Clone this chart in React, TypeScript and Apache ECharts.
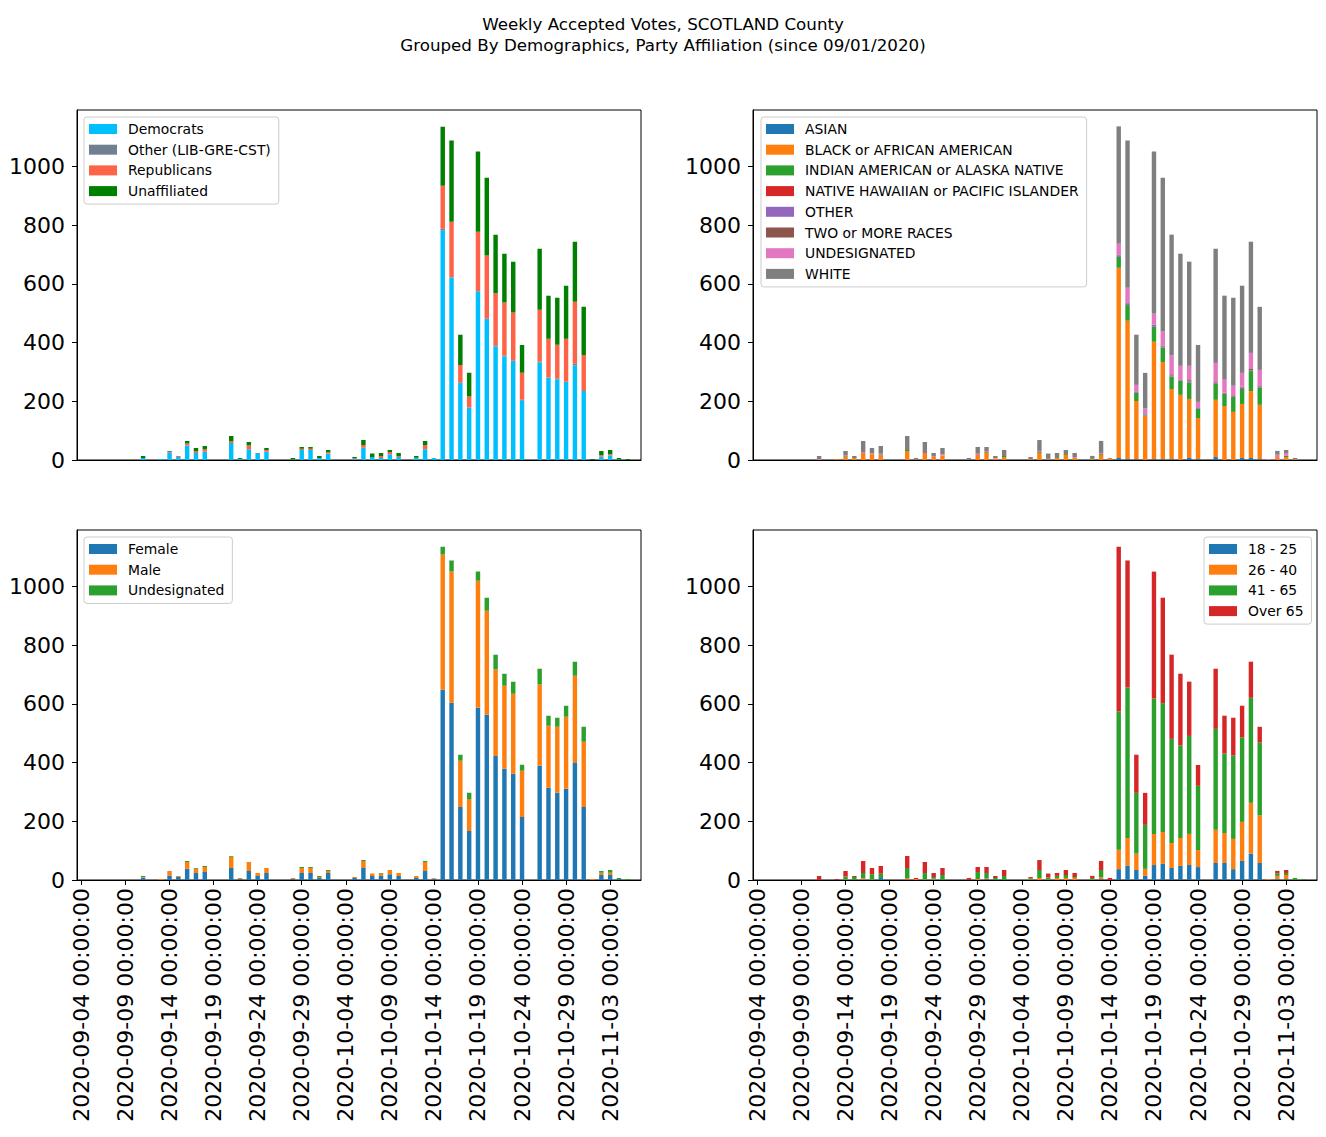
import React, { useEffect, useRef } from "react";
import * as echarts from "echarts";

// ---------- Categories ----------
const START_DATE = "2020-09-04";
const N_DAYS = 64;
const DATES: string[] = (() => {
  const out: string[] = [];
  const d0 = new Date(START_DATE + "T00:00:00Z");
  for (let i = 0; i < N_DAYS; i++) {
    const d = new Date(d0.getTime() + i * 86400000);
    out.push(d.toISOString().slice(0, 10));
  }
  return out;
})();

const Y_TICKS = [0, 200, 400, 600, 800, 1000];

// ---------- Party affiliation ----------
const PARTY_NAMES = ["Democrats", "Other (LIB-GRE-CST)", "Republicans", "Unaffiliated"];
const PARTY_COLORS = ["#00BFFF", "#708090", "#FF6347", "#008000"];
const democrats = [
  0, 0, 0, 0, 0, 0, 0, 7,
  0, 3, 25, 10, 49, 24, 28, 0,
  0, 58, 3, 37, 22, 28, 0, 0,
  2, 34, 34, 7, 22, 0, 0, 3,
  42, 10, 7, 20, 10, 0, 8, 37,
  7, 783, 622, 263, 179, 575, 481, 387,
  353, 338, 202, 0, 332, 281, 275, 267,
  322, 235, 0, 11, 15, 2, 0, 0,
];
const otherParty = [
  0, 0, 0, 0, 0, 0, 0, 0,
  0, 0, 0, 0, 0, 0, 0, 0,
  0, 0, 0, 0, 0, 0, 0, 0,
  0, 0, 0, 0, 0, 0, 0, 0,
  0, 0, 0, 0, 0, 0, 0, 0,
  0, 5, 0, 0, 0, 0, 0, 4,
  3, 0, 3, 0, 4, 0, 2, 0,
  6, 0, 0, 0, 0, 0, 0, 0,
];
const republicans = [
  0, 0, 0, 0, 0, 0, 0, 0,
  0, 0, 3, 4, 7, 7, 9, 0,
  0, 7, 0, 12, 0, 6, 0, 0,
  0, 4, 4, 0, 5, 0, 0, 4,
  9, 0, 7, 7, 4, 0, 0, 14,
  0, 147, 190, 61, 37, 203, 216, 177,
  181, 165, 92, 0, 176, 132, 116, 146,
  211, 123, 0, 5, 5, 0, 0, 0,
];
const unaffiliated = [
  0, 0, 0, 0, 0, 0, 0, 7,
  0, 0, 3, 0, 9, 10, 11, 0,
  0, 17, 4, 12, 2, 7, 0, 0,
  5, 6, 6, 7, 7, 0, 0, 3,
  17, 12, 10, 7, 10, 0, 6, 14,
  0, 201, 277, 103, 81, 273, 265, 200,
  166, 173, 95, 0, 208, 147, 160, 181,
  205, 164, 3, 15, 14, 5, 3, 0,
];

// ---------- Race ----------
const RACE_NAMES = [
  "ASIAN",
  "BLACK or AFRICAN AMERICAN",
  "INDIAN AMERICAN or ALASKA NATIVE",
  "NATIVE HAWAIIAN or PACIFIC ISLANDER",
  "OTHER",
  "TWO or MORE RACES",
  "UNDESIGNATED",
  "WHITE",
];
const RACE_COLORS = ["#1f77b4", "#ff7f0e", "#2ca02c", "#d62728", "#9467bd", "#8c564b", "#e377c2", "#7f7f7f"];
const asian = [
  0, 0, 0, 0, 0, 0, 0, 0,
  0, 0, 0, 0, 0, 0, 0, 0,
  0, 0, 0, 0, 0, 0, 0, 0,
  0, 0, 0, 0, 0, 0, 0, 0,
  0, 0, 0, 0, 0, 0, 0, 0,
  0, 7, 3, 3, 0, 3, 3, 3,
  0, 7, 3, 0, 10, 0, 0, 7,
  7, 3, 0, 0, 0, 0, 0, 0,
];
const black = [
  0, 0, 0, 0, 0, 0, 0, 0,
  0, 3, 10, 7, 24, 20, 15, 0,
  0, 31, 2, 24, 10, 15, 0, 0,
  0, 17, 25, 4, 10, 0, 0, 3,
  24, 2, 7, 17, 7, 0, 3, 17,
  4, 648, 472, 198, 151, 400, 331, 239,
  222, 201, 140, 0, 195, 184, 164, 184,
  228, 185, 0, 10, 10, 3, 0, 0,
];
const indian = [
  0, 0, 0, 0, 0, 0, 0, 0,
  0, 0, 3, 0, 0, 2, 2, 0,
  0, 3, 0, 0, 0, 0, 0, 0,
  0, 0, 2, 0, 4, 0, 0, 0,
  3, 0, 3, 3, 0, 0, 3, 3,
  0, 37, 53, 28, 2, 51, 49, 42,
  48, 55, 31, 0, 54, 41, 51, 51,
  68, 58, 0, 0, 4, 0, 0, 0,
];
const hawaiian = [
  0, 0, 0, 0, 0, 0, 0, 0,
  0, 0, 0, 0, 0, 0, 0, 0,
  0, 0, 0, 0, 0, 0, 0, 0,
  0, 0, 0, 0, 0, 0, 0, 0,
  0, 0, 0, 0, 0, 0, 0, 0,
  0, 0, 0, 0, 0, 0, 0, 0,
  0, 0, 0, 0, 0, 2, 0, 0,
  0, 0, 0, 0, 0, 0, 0, 0,
];
const otherRace = [
  0, 0, 0, 0, 0, 0, 0, 0,
  0, 0, 0, 0, 0, 0, 0, 0,
  0, 0, 0, 3, 0, 0, 0, 0,
  0, 0, 0, 0, 0, 0, 0, 0,
  0, 2, 0, 0, 0, 0, 0, 0,
  0, 5, 6, 3, 3, 7, 5, 4,
  3, 5, 3, 0, 2, 3, 3, 5,
  3, 5, 0, 0, 0, 0, 0, 0,
];
const twoOrMore = [
  0, 0, 0, 0, 0, 0, 0, 0,
  0, 0, 0, 0, 0, 0, 0, 0,
  0, 0, 0, 0, 0, 0, 0, 0,
  0, 0, 0, 0, 0, 0, 0, 0,
  0, 0, 0, 0, 0, 0, 0, 0,
  0, 2, 3, 0, 0, 0, 2, 4,
  0, 4, 0, 0, 4, 0, 0, 3,
  4, 3, 0, 0, 0, 0, 0, 0,
];
const undesignatedRace = [
  0, 0, 0, 0, 0, 0, 0, 3,
  0, 0, 4, 0, 3, 2, 4, 0,
  0, 0, 0, 0, 4, 5, 0, 0,
  0, 4, 4, 3, 0, 0, 0, 0,
  4, 0, 0, 0, 3, 0, 0, 4,
  0, 38, 50, 24, 20, 37, 48, 64,
  48, 49, 21, 0, 66, 46, 35, 47,
  55, 53, 3, 8, 10, 0, 0, 0,
];
const white = [
  0, 0, 0, 0, 0, 0, 0, 11,
  0, 0, 14, 7, 38, 17, 27, 0,
  0, 48, 5, 34, 10, 21, 0, 0,
  7, 23, 13, 7, 20, 0, 0, 7,
  37, 18, 14, 14, 14, 0, 8, 41,
  3, 400, 502, 171, 121, 553, 524, 412,
  382, 355, 194, 0, 389, 284, 300, 297,
  379, 215, 0, 13, 10, 4, 3, 0,
];

// ---------- Gender ----------
const GENDER_NAMES = ["Female", "Male", "Undesignated"];
const GENDER_COLORS = ["#1f77b4", "#ff7f0e", "#2ca02c"];
const female = [
  0, 0, 0, 0, 0, 0, 0, 8,
  0, 0, 15, 10, 38, 24, 27, 0,
  0, 41, 3, 31, 14, 24, 0, 0,
  3, 24, 24, 7, 24, 0, 0, 7,
  41, 14, 14, 20, 14, 0, 7, 31,
  4, 648, 604, 249, 167, 587, 563, 423,
  379, 362, 215, 0, 389, 314, 297, 311,
  399, 249, 0, 17, 17, 3, 0, 0,
];
const male = [
  0, 0, 0, 0, 0, 0, 0, 2,
  0, 3, 16, 4, 23, 14, 17, 0,
  0, 38, 4, 30, 10, 17, 0, 0,
  4, 17, 17, 3, 7, 0, 0, 3,
  24, 8, 7, 14, 10, 0, 7, 30,
  3, 461, 447, 157, 109, 433, 355, 294,
  283, 273, 157, 0, 277, 212, 225, 245,
  297, 222, 3, 8, 8, 0, 0, 0,
];
const undesignatedGender = [
  0, 0, 0, 0, 0, 0, 0, 4,
  0, 0, 0, 0, 4, 3, 4, 0,
  0, 3, 0, 0, 0, 0, 0, 0,
  0, 3, 3, 4, 3, 0, 0, 0,
  3, 0, 3, 0, 0, 0, 0, 4,
  0, 27, 38, 21, 21, 31, 44, 51,
  41, 41, 21, 0, 54, 34, 31, 38,
  48, 51, 0, 6, 9, 4, 3, 0,
];

// ---------- Age ----------
const AGE_NAMES = ["18 - 25", "26 - 40", "41 - 65", "Over 65"];
const AGE_COLORS = ["#1f77b4", "#ff7f0e", "#2ca02c", "#d62728"];
const age18to25 = [
  0, 0, 0, 0, 0, 0, 0, 0,
  0, 0, 0, 0, 2, 0, 7, 0,
  0, 2, 0, 0, 2, 0, 0, 0,
  0, 0, 3, 0, 0, 0, 0, 0,
  0, 0, 0, 0, 0, 0, 0, 3,
  0, 37, 48, 34, 14, 51, 55, 41,
  48, 51, 44, 0, 58, 58, 37, 65,
  90, 58, 0, 3, 3, 0, 0, 0,
];
const age26to40 = [
  0, 0, 0, 0, 0, 0, 0, 0,
  0, 0, 2, 0, 4, 2, 0, 0,
  0, 5, 3, 2, 2, 0, 0, 0,
  0, 3, 4, 0, 0, 0, 0, 2,
  7, 2, 7, 7, 7, 0, 2, 7,
  0, 66, 95, 56, 24, 106, 109, 85,
  95, 106, 58, 0, 113, 102, 103, 133,
  173, 162, 3, 11, 14, 0, 0, 0,
];
const age41to65 = [
  0, 0, 0, 0, 0, 0, 0, 0,
  0, 0, 10, 10, 18, 18, 14, 0,
  0, 34, 0, 22, 6, 17, 0, 0,
  0, 24, 17, 7, 14, 0, 0, 4,
  27, 7, 7, 10, 3, 0, 5, 24,
  0, 471, 513, 207, 150, 461, 438, 355,
  316, 334, 219, 0, 344, 271, 284, 288,
  358, 248, 0, 9, 7, 7, 3, 0,
];
const ageOver65 = [
  0, 0, 0, 0, 0, 0, 0, 14,
  0, 3, 19, 4, 41, 21, 27, 0,
  0, 41, 4, 37, 14, 24, 0, 0,
  7, 17, 20, 7, 20, 0, 0, 4,
  34, 13, 10, 17, 14, 0, 7, 31,
  7, 562, 433, 130, 109, 433, 360, 287,
  244, 185, 71, 0, 205, 129, 129, 108,
  123, 54, 0, 8, 10, 0, 0, 0,
];

const TITLE = "Weekly Accepted Votes, SCOTLAND County\nGrouped By Demographics, Party Affiliation (since 09/01/2020)";

const FONT = "DejaVu Sans";

export default function App() {
  const ref = useRef<HTMLDivElement>(null);

  useEffect(() => {
    if (!ref.current) return;
    const chart = echarts.init(ref.current, null, { renderer: "svg" });

    const groups = [
      { names: PARTY_NAMES, colors: PARTY_COLORS, values: [democrats, otherParty, republicans, unaffiliated] },
      { names: RACE_NAMES, colors: RACE_COLORS, values: [asian, black, indian, hawaiian, otherRace, twoOrMore, undesignatedRace, white] },
      { names: GENDER_NAMES, colors: GENDER_COLORS, values: [female, male, undesignatedGender] },
      { names: AGE_NAMES, colors: AGE_COLORS, values: [age18to25, age26to40, age41to65, ageOver65] },
    ];

    const grids = [
      { left: 77, top: 110, width: 564, height: 350 },
      { left: 753, top: 110, width: 564, height: 350 },
      { left: 77, top: 530, width: 564, height: 350 },
      { left: 753, top: 530, width: 564, height: 350 },
    ];

    const allTotals = DATES.map((_, i) =>
      groups[0].values.reduce((s, arr) => s + arr[i], 0)
    );
    const yMax = Math.max(...allTotals) * 1.05;

    const xAxes = grids.map((_, g) => {
      const bottom = g >= 2;
      return {
        type: "category",
        gridIndex: g,
        data: DATES,
        boundaryGap: true,
        axisLine: { show: true, lineStyle: { color: "#000", width: 1 } },
        axisTick: {
          show: bottom,
          interval: 4,
          alignWithLabel: true,
          length: 5,
          lineStyle: { color: "#000", width: 1 },
        },
        axisLabel: {
          show: bottom,
          interval: 4,
          rotate: 90,
          margin: 8,
          fontSize: 22,
          fontFamily: FONT,
          color: "#000",
          hideOverlap: false,
          formatter: (v: string) => v + " 00:00:00",
        },
        splitLine: { show: false },
      };
    });

    const yAxes = grids.map((_, g) => ({
      type: "value",
      gridIndex: g,
      min: 0,
      max: yMax,
      interval: 200,
      axisLine: { show: true, lineStyle: { color: "#000", width: 1 } },
      axisTick: {
        show: true,
        length: 5,
        lineStyle: { color: "#000", width: 1 },
        customValues: Y_TICKS,
      },
      axisLabel: {
        show: true,
        margin: 12,
        fontSize: 22,
        fontFamily: FONT,
        color: "#000",
        customValues: Y_TICKS,
        formatter: (v: number) => String(Math.round(v)),
      },
      splitLine: { show: false },
    }));

    const series: any[] = [];
    groups.forEach((grp, g) => {
      grp.names.forEach((name, k) => {
        series.push({
          type: "bar",
          name,
          xAxisIndex: g,
          yAxisIndex: g,
          stack: "stack" + g,
          barWidth: "50%",
          data: grp.values[k],
          itemStyle: { color: grp.colors[k] },
          emphasis: { disabled: true },
        });
      });
    });

    const legendBase = {
      orient: "vertical",
      icon: "rect",
      itemWidth: 28,
      itemHeight: 10,
      itemGap: 6.7,
      padding: [5, 8, 6, 5],
      backgroundColor: "rgba(255,255,255,0.8)",
      borderColor: "#cccccc",
      borderWidth: 1,
      borderRadius: 3,
      selectedMode: false,
      textStyle: {
        fontSize: 13.9,
        lineHeight: 14,
        fontFamily: FONT,
        color: "#000",
        padding: [0, 0, 0, 6],
      },
    };

    const legends = [
      { ...legendBase, data: PARTY_NAMES, left: 84, top: 117 },
      { ...legendBase, data: RACE_NAMES, left: 761, top: 117 },
      { ...legendBase, data: GENDER_NAMES, left: 84, top: 537 },
      { ...legendBase, data: AGE_NAMES, left: 1204, top: 537 },
    ];

    chart.setOption({
      animation: false,
      backgroundColor: "#ffffff",
      title: {
        text: TITLE,
        left: "center",
        top: 8,
        textStyle: {
          fontSize: 16.7,
          lineHeight: 21,
          fontWeight: "normal",
          fontFamily: FONT,
          color: "#000",
          align: "center",
        },
      },
      grid: grids.map((g) => ({
        ...g,
        show: true,
        borderColor: "#000",
        borderWidth: 1,
        backgroundColor: "transparent",
        containLabel: false,
      })),
      xAxis: xAxes,
      yAxis: yAxes,
      legend: legends,
      series,
    } as any);

    return () => {
      chart.dispose();
    };
  }, []);

  return (
    <div
      ref={ref}
      style={{ position: "fixed", left: 0, top: 0, width: 1326, height: 1137, background: "#fff" }}
    />
  );
}
